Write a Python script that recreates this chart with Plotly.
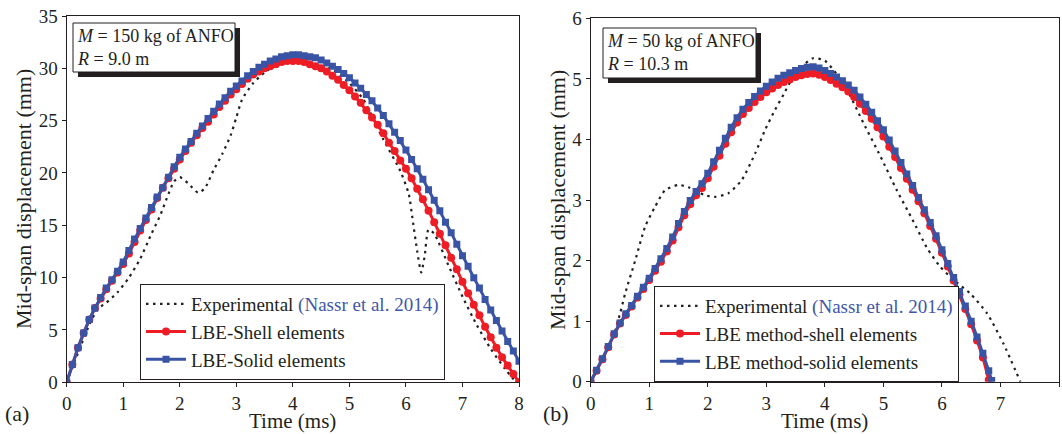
import plotly.graph_objects as go

W, H = 1062, 434

# ---------------- data: panel (a) M = 150 kg, R = 9.0 m ----------------
t_a = [i / 10 for i in range(81)]
shell_a = [0, 1.7, 3.3, 4.7, 6.0, 7.1, 8.0, 8.9, 9.7, 10.5,
           11.3, 12.3, 13.4, 14.5, 15.5, 16.5, 17.6, 18.6, 19.5, 20.4,
           21.3, 22.1, 22.9, 23.6, 24.3, 24.9, 25.6, 26.3, 26.9, 27.5,
           28.0, 28.5, 29.0, 29.4, 29.7, 30.0, 30.2, 30.4, 30.6, 30.7,
           30.7, 30.7, 30.6, 30.4, 30.2, 30.0, 29.7, 29.3, 28.9, 28.4,
           27.9, 27.3, 26.7, 26.0, 25.3, 24.6, 23.8, 22.9, 22.1, 21.2,
           20.4, 19.5, 18.5, 17.5, 16.4, 15.3, 14.2, 13.1, 11.9, 10.8,
           9.6, 8.5, 7.4, 6.4, 5.3, 4.3, 3.3, 2.4, 1.6, 0.8, 0.0]
solid_a = [0, 1.7, 3.3, 4.7, 6.0, 7.1, 8.1, 9.0, 9.8, 10.6,
           11.5, 12.6, 13.7, 14.7, 15.7, 16.7, 17.7, 18.6, 19.6, 20.6,
           21.5, 22.3, 23.0, 23.8, 24.5, 25.2, 25.9, 26.6, 27.2, 27.8,
           28.3, 28.8, 29.3, 29.7, 30.1, 30.4, 30.7, 30.9, 31.1, 31.2,
           31.3, 31.3, 31.2, 31.1, 31.0, 30.8, 30.5, 30.2, 29.9, 29.5,
           29.1, 28.6, 28.1, 27.5, 26.9, 26.2, 25.5, 24.7, 23.9, 23.1,
           22.2, 21.3, 20.4, 19.4, 18.4, 17.4, 16.4, 15.3, 14.3, 13.2,
           12.1, 11.1, 10.0, 9.0, 7.9, 6.9, 5.9, 4.9, 3.9, 3.0, 2.0]
t_exp_a = [0, 0.2, 0.4, 0.55, 0.7, 0.9, 1.1, 1.3, 1.5, 1.65, 1.8, 1.9, 2.0,
           2.15, 2.33, 2.45, 2.6, 2.75, 2.9, 3.0, 3.1, 3.3, 3.5, 3.7, 4.0,
           4.3, 4.7, 5.0, 5.25, 5.6, 5.9, 6.05, 6.12, 6.2, 6.27, 6.33, 6.4,
           6.5, 6.75, 7.0, 7.25, 7.5, 7.75, 7.95]
exp_a = [0, 2.8, 5.5, 7.0, 7.6, 8.6, 10.0, 11.8, 14.2, 15.9, 18.0, 19.2, 19.6,
         19.0, 18.1, 18.6, 20.3, 21.8, 23.6, 25.3, 27.0, 28.6, 29.6, 30.3, 30.6,
         30.5, 29.9, 28.6, 27.0, 23.2, 20.2, 18.0, 15.5, 12.5, 10.5, 12.0, 14.6,
         14.2, 11.2, 8.2, 5.5, 3.2, 1.3, 0.0]

# ---------------- data: panel (b) M = 50 kg, R = 10.3 m ----------------
t_shell_b = [i / 10 for i in range(69)]
shell_b = [0, 0.18, 0.37, 0.57, 0.78, 0.96, 1.10, 1.24, 1.39, 1.53,
           1.68, 1.83, 1.98, 2.15, 2.33, 2.55, 2.75, 2.93, 3.08, 3.20,
           3.36, 3.55, 3.73, 3.93, 4.12, 4.28, 4.42, 4.52, 4.62, 4.70,
           4.78, 4.84, 4.90, 4.95, 4.99, 5.03, 5.06, 5.08, 5.09, 5.07,
           5.03, 4.98, 4.92, 4.86, 4.79, 4.70, 4.59, 4.47, 4.34, 4.20,
           4.05, 3.88, 3.71, 3.53, 3.35, 3.17, 2.98, 2.78, 2.57, 2.36,
           2.13, 1.90, 1.67, 1.44, 1.20, 0.95, 0.68, 0.40, 0.03]
t_solid_b = [i / 10 for i in range(69)] + [6.85]
solid_b = [0, 0.19, 0.38, 0.58, 0.79, 0.97, 1.12, 1.26, 1.41, 1.56,
           1.71, 1.87, 2.03, 2.20, 2.39, 2.61, 2.81, 2.99, 3.14, 3.27,
           3.44, 3.63, 3.82, 4.02, 4.20, 4.36, 4.50, 4.61, 4.71, 4.80,
           4.88, 4.95, 5.01, 5.06, 5.10, 5.14, 5.17, 5.19, 5.20, 5.18,
           5.14, 5.09, 5.03, 4.97, 4.90, 4.81, 4.70, 4.58, 4.45, 4.31,
           4.16, 3.99, 3.81, 3.62, 3.43, 3.24, 3.04, 2.84, 2.63, 2.41,
           2.18, 1.95, 1.72, 1.49, 1.25, 1.00, 0.74, 0.47, 0.18, 0.02]
t_exp_b = [0, 0.2, 0.38, 0.5, 0.59, 0.76, 0.93, 1.1, 1.27, 1.5, 1.67, 1.95,
           2.12, 2.35, 2.58, 2.81, 2.98, 3.15, 3.3, 3.46, 3.6, 3.8, 4.0, 4.2,
           4.4, 4.66, 4.95, 5.23, 5.5, 5.75, 5.97, 6.2, 6.48, 6.77, 7.05, 7.34]
exp_b = [0, 0.35, 0.73, 1.12, 1.46, 2.0, 2.56, 2.89, 3.16, 3.25, 3.21, 3.08,
         3.05, 3.11, 3.33, 3.77, 4.16, 4.49, 4.75, 5.04, 5.2, 5.34, 5.3, 5.08,
         4.78, 4.27, 3.72, 3.16, 2.67, 2.2, 1.9, 1.68, 1.46, 1.13, 0.63, 0.0]

x_ticks = [0, 1, 2, 3, 4, 5, 6, 7, 8]
y_ticks_a = [0, 5, 10, 15, 20, 25, 30, 35]
y_ticks_b = [0, 1, 2, 3, 4, 5, 6]

x_title = "Time (ms)"
y_title = "Mid-span displacement (mm)"
names_a = ["Experimental <span style='color:#4257AA'>(Nassr et al. 2014)</span>",
           "LBE-Shell elements", "LBE-Solid elements"]
names_b = ["Experimental <span style='color:#4257AA'>(Nassr et al. 2014)</span>",
           "LBE method-shell elements", "LBE method-solid elements"]

# ---------------- styling ----------------
FONT = "Liberation Serif, Times New Roman, serif"
RED = "#EE1D25"
BLUE = "#3A54A5"
BLACK = "#231F20"


def px(x):
    return x / W


def py(y):
    return 1 - y / H


fig = go.Figure()

panels = [
    dict(xa="x", ya="y", leg="legend", t_exp=t_exp_a, exp=exp_a,
         t_sh=t_a, sh=shell_a, t_so=t_a, so=solid_a, names=names_a),
    dict(xa="x2", ya="y2", leg="legend2", t_exp=t_exp_b, exp=exp_b,
         t_sh=t_shell_b, sh=shell_b, t_so=t_solid_b, so=solid_b, names=names_b),
]

for p in panels:
    fig.add_trace(go.Scatter(x=p["t_exp"], y=p["exp"], mode="lines", name=p["names"][0],
                             line=dict(color=BLACK, width=2.2, dash="2.5px,4.5px", shape="spline", smoothing=0.6),
                             xaxis=p["xa"], yaxis=p["ya"], legend=p["leg"]))
    fig.add_trace(go.Scatter(x=p["t_sh"], y=p["sh"], mode="lines+markers", name=p["names"][1],
                             line=dict(color=RED, width=3),
                             marker=dict(symbol="circle", size=8, color=RED),
                             xaxis=p["xa"], yaxis=p["ya"], legend=p["leg"]))
    fig.add_trace(go.Scatter(x=p["t_so"], y=p["so"], mode="lines+markers", name=p["names"][2],
                             line=dict(color=BLUE, width=3),
                             marker=dict(symbol="square", size=7, color=BLUE),
                             xaxis=p["xa"], yaxis=p["ya"], legend=p["leg"]))

axis_common = dict(showgrid=False, zeroline=False, showline=True, linecolor="#231F20",
                   linewidth=1.3, mirror=True, ticks="outside", ticklen=4,
                   tickwidth=1.2, tickcolor="#231F20", automargin=False,
                   tickfont=dict(family=FONT, size=19, color="#231F20"))

fig.update_layout(
    width=W, height=H,
    margin=dict(l=0, r=0, t=0, b=0, pad=0, autoexpand=False),
    paper_bgcolor="white", plot_bgcolor="white",
    showlegend=True,
    xaxis=dict(domain=[px(66.7), px(519)], range=[0, 8], tickvals=x_ticks,
               anchor="y", **axis_common),
    yaxis=dict(domain=[py(382.3), py(16)], range=[0, 35], tickvals=y_ticks_a,
               anchor="x", **axis_common),
    xaxis2=dict(domain=[px(590.7), px(1059)], range=[0, 8], tickvals=x_ticks,
                anchor="y2", **axis_common),
    yaxis2=dict(domain=[py(381.7), py(18.3)], range=[0, 6], tickvals=y_ticks_b,
                anchor="x2", **axis_common),
    legend=dict(x=px(140), y=py(284), xanchor="left", yanchor="top",
                bgcolor="white", bordercolor="#231F20", borderwidth=1,
                font=dict(family=FONT, size=19, color="#231F20"),
                itemwidth=40, tracegroupgap=0),
    legend2=dict(x=px(654), y=py(286), xanchor="left", yanchor="top",
                 bgcolor="white", bordercolor="#231F20", borderwidth=1,
                 font=dict(family=FONT, size=19, color="#231F20"),
                 itemwidth=40, tracegroupgap=0),
)

# axis titles (placed as annotations for exact positioning)
for xc in [(66.7 + 519) / 2, (590.7 + 1059) / 2]:
    fig.add_annotation(xref="paper", yref="paper", x=px(xc), y=0, xanchor="center", yanchor="bottom",
                       showarrow=False, text=x_title, borderpad=0,
                       font=dict(family=FONT, size=21, color="#231F20"))
for xc, yc in [(23, 199), (557, 200)]:
    fig.add_annotation(xref="paper", yref="paper", x=px(xc), y=py(yc), xanchor="center", yanchor="middle",
                       showarrow=False, textangle=-90, text=y_title,
                       font=dict(family=FONT, size=22, color="#231F20"))

# info boxes with drop shadow
boxes = [
    dict(x0=73, y0=23, x1=235, y1=72, text="<i>M</i> = 150 kg of ANFO<br><i>R</i> = 9.0 m"),
    dict(x0=603, y0=28, x1=756, y1=78, text="<i>M</i> = 50 kg of ANFO<br><i>R</i> = 10.3 m"),
]
for b in boxes:
    fig.add_shape(type="rect", xref="paper", yref="paper",
                  x0=px(b["x0"] + 5), x1=px(b["x1"] + 5), y0=py(b["y1"] + 5), y1=py(b["y0"] + 5),
                  fillcolor="#231F20", line=dict(width=0), layer="above")
    fig.add_shape(type="rect", xref="paper", yref="paper",
                  x0=px(b["x0"]), x1=px(b["x1"]), y0=py(b["y1"]), y1=py(b["y0"]),
                  fillcolor="white", line=dict(color="#231F20", width=1), layer="above")
    fig.add_annotation(xref="paper", yref="paper", x=px(b["x0"] + 2), y=py((b["y0"] + b["y1"]) / 2),
                       xanchor="left", yanchor="middle", align="left", showarrow=False,
                       text=b["text"], font=dict(family=FONT, size=18, color="#231F20"))

for lbl, xx in [("(a)", 3), ("(b)", 541)]:
    fig.add_annotation(xref="paper", yref="paper", x=px(xx), y=py(413), xanchor="left", yanchor="middle",
                       showarrow=False, text=lbl, font=dict(family=FONT, size=22, color="#231F20"))

fig.write_html("out.html")
